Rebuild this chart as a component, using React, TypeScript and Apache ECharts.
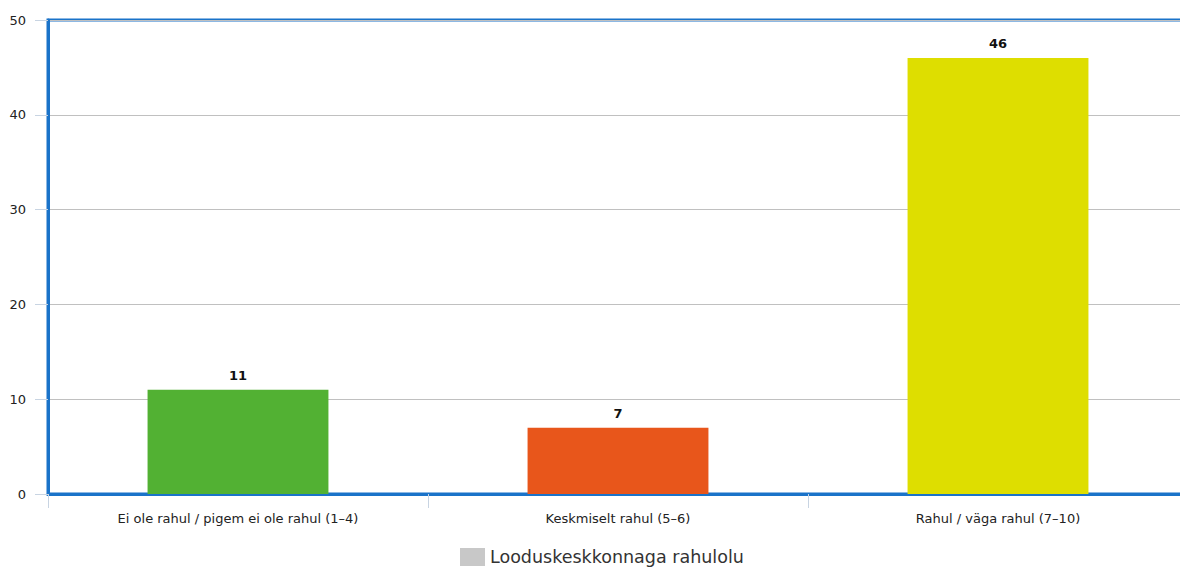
import React, { useEffect, useRef } from "react";
import * as echarts from "echarts";

const categories = [
  "Ei ole rahul / pigem ei ole rahul (1–4)",
  "Keskmiselt rahul (5–6)",
  "Rahul / väga rahul (7–10)",
];
const values = [11, 7, 46];
const barColors = ["#52b133", "#e8561b", "#dede00"];
const seriesName = "Looduskeskkonnaga rahulolu";
const yTicks = [0, 10, 20, 30, 40, 50];

export default function App() {
  const ref = useRef<HTMLDivElement>(null);
  useEffect(() => {
    if (!ref.current) return;
    const chart = echarts.init(ref.current, undefined, { renderer: "svg" });
    chart.setOption({
      animation: false,
      textStyle: { fontFamily: "DejaVu Sans" },
      grid: {
        left: 48,
        right: -8,
        top: 20,
        bottom: 76,
        outerBoundsMode: "none",
        containLabel: false,
        show: true,
        borderColor: "#1a73c9",
        borderWidth: 3,
      },
      legend: {
        bottom: -1,
        left: 455,
        itemWidth: 25,
        itemHeight: 18,
        itemGap: 10,
        textStyle: { fontSize: 17.5, color: "#333", fontFamily: "DejaVu Sans" },
        data: [{ name: seriesName, icon: "rect", itemStyle: { color: "#c8c8c8" } }],
      },
      xAxis: {
        type: "category",
        data: categories,
        axisLine: { show: true, lineStyle: { color: "#1a73c9", width: 3 } },
        axisTick: { show: true, length: 14, lineStyle: { color: "#c8d4e2", width: 1 } },
        axisLabel: { color: "#222", fontSize: 13, margin: 18, fontFamily: "DejaVu Sans" },
      },
      yAxis: {
        type: "value",
        min: yTicks[0],
        max: yTicks[yTicks.length - 1],
        interval: 10,
        axisLine: { show: true, lineStyle: { color: "#1a73c9", width: 3 } },
        axisTick: { show: true, length: 13, lineStyle: { color: "#c8d4e2", width: 1 } },
        axisLabel: { color: "#222", fontSize: 13, margin: 22, fontFamily: "DejaVu Sans" },
        splitLine: { show: true, lineStyle: { color: "#c0c0c0", width: 1 } },
      },
      series: [
        {
          name: seriesName,
          type: "bar",
          barWidth: "47.6%",
          itemStyle: { color: "#c8c8c8" },
          data: values.map((v, i) => ({ value: v, itemStyle: { color: barColors[i] } })),
          label: {
            show: true,
            position: "top",
            distance: 8,
            fontWeight: "bold",
            fontSize: 13,
            color: "#111",
            fontFamily: "DejaVu Sans",
          },
        },
      ],
    });
    return () => chart.dispose();
  }, []);
  return <div ref={ref} style={{ width: 1180, height: 570, position: "absolute", left: 0, top: 0, background: "#fff" }} />;
}
